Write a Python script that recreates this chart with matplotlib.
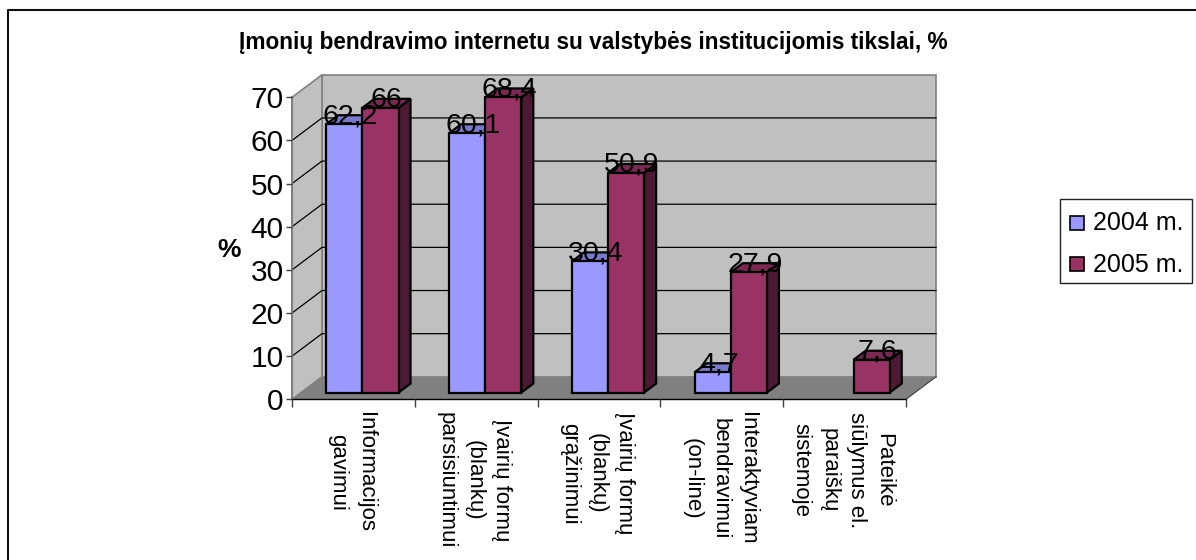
import matplotlib
matplotlib.use("Agg")
import matplotlib.pyplot as plt
from matplotlib.patches import Polygon, Rectangle
from matplotlib.lines import Line2D

plt.rcParams['font.family'] = ['Liberation Sans', 'DejaVu Sans']

title = "Įmonių bendravimo internetu su valstybės institucijomis tikslai, %"
categories = ["Informacijos\ngavimui",
              "Įvairių formų\n(blankų)\nparsisiuntimui",
              "Įvairių formų\n(blankų)\ngrąžinimui",
              "Interaktyviam\nbendravimui\n(on-line)",
              "Pateikė\nsiūlymus el.\nparaiškų\nsistemoje"]
series_names = ["2004 m.", "2005 m."]
values_2004 = [62.2, 60.1, 30.4, 4.7, None]
values_2005 = [66, 68.4, 50.9, 27.9, 7.6]
yticks = [0, 10, 20, 30, 40, 50, 60, 70]

W, H = 1196, 560
LEFT, RIGHT, TOP, BOTTOM = 292, 906, 97.3, 399.3
fig = plt.figure(figsize=(W/100, H/100), dpi=100, facecolor='white')
# outer chart frame: only the top and left edges are in view
fig.add_artist(Line2D([8/W, 8/W, 1], [0, 1-9.5/H, 1-9.5/H], transform=fig.transFigure,
                      color='#101010', lw=1.5))
ax = fig.add_axes([LEFT/W, 1-BOTTOM/H, (RIGHT-LEFT)/W, (BOTTOM-TOP)/H])
n = len(categories)
ax.set_xlim(0, n)
ax.set_ylim(0, yticks[-1])
ax.patch.set_visible(False)
for s in ('top', 'right'):
    ax.spines[s].set_visible(False)
for s in ('left', 'bottom'):
    ax.spines[s].set_zorder(1)
ax.spines['left'].set_color('#808080')
ax.spines['left'].set_linewidth(1.5)
ax.spines['bottom'].set_linewidth(1)

# depth vector of the full 3-D box, in data units
DX = 30 / ((RIGHT-LEFT)/n)
DY = 22.5 / ((BOTTOM-TOP)/yticks[-1])

def P(x, y, z):
    return (x + z*DX, y + z*DY)

def poly(pts, fc, ec='none', lw=0, zo=1):
    ax.add_patch(Polygon(pts, closed=True, fc=fc, ec=ec, lw=lw, zorder=zo,
                         clip_on=False, joinstyle='miter'))

ymax = yticks[-1]
# walls and floor
poly([P(0,0,1), P(n,0,1), P(n,ymax,1), P(0,ymax,1)], '#C0C0C0', '#808080', 1.2, 0.5)
poly([P(0,0,0), P(0,0,1), P(0,ymax,1), P(0,ymax,0)], '#C0C0C0', '#808080', 1.2, 0.5)
poly([P(0,0,0), P(n,0,0), P(n,0,1), P(0,0,1)], '#808080', 'none', 0, 0.6)
for t in yticks[1:-1]:
    a, b, c = P(0,t,0), P(0,t,1), P(n,t,1)
    ax.plot([a[0], b[0], c[0]], [a[1], b[1], c[1]], color='black', lw=0.9,
            clip_on=False, zorder=0.8, solid_joinstyle='miter')
e = P(n,0,0), P(n,0,1)
ax.plot([e[0][0], e[1][0]], [e[0][1], e[1][1]], color='#404040', lw=0.8, clip_on=False, zorder=0.8)

# bars
GAP = 1.4
BW = 1/(2+GAP)
Z0, Z1 = 0.3, 0.7
EC = 'black'
LW = 1.6
def bar(x0, v, front, topc, sidec, zo):
    x1 = x0 + BW
    poly([P(x1,0,Z0), P(x1,0,Z1), P(x1,v,Z1), P(x1,v,Z0)], sidec, EC, LW, zo)
    poly([P(x0,v,Z0), P(x1,v,Z0), P(x1,v,Z1), P(x0,v,Z1)], topc, EC, LW, zo)
    poly([P(x0,0,Z0), P(x1,0,Z0), P(x1,v,Z0), P(x0,v,Z0)], front, EC, LW, zo+0.01)

colors = [('#9999FF', '#7A7ACC', '#4D4D80'), ('#993366', '#7A2952', '#4D1A33')]
for i in range(n):
    x0 = i + GAP/2*BW
    for j, vals in enumerate((values_2004, values_2005)):
        v = vals[i]
        if v is None:
            continue
        bar(x0 + j*BW, v, *colors[j], 2 + i + j*0.1)
for i in range(n):
    x0 = i + GAP/2*BW
    for j, vals in enumerate((values_2004, values_2005)):
        v = vals[i]
        if v is None:
            continue
        lx, ly = P(x0 + j*BW + BW/2, v, 0.5)
        ax.annotate(str(v).replace('.', ','), xy=(lx, ly), xytext=(0, 2.5), textcoords='offset points',
                    ha='center', va='center', fontsize=20.5, color='black', zorder=10,
                    annotation_clip=False)

ax.set_yticks(yticks)
ax.tick_params(axis='y', labelsize=21.5, length=4, width=1, color='#404040', pad=2)
ax.set_xticks(range(n+1))
ax.set_xticklabels([])
ax.tick_params(axis='x', length=6, width=1, color='#404040')
for i, c in enumerate(categories):
    ax.annotate(c, xy=(i+0.5, 0), xycoords=('data', 'axes fraction'), xytext=(-1.5, -13*0.72),
                textcoords='offset points', rotation=-90, ha='center', va='top',
                multialignment='center', fontsize=16, linespacing=1.42, annotation_clip=False)
fig.text(593/W, 1-43/H, title, ha='center', va='center', fontsize=16.3, fontweight='bold')
fig.text(229/W, 1-250/H, '%', ha='center', va='center', fontsize=19, fontweight='bold')

# legend
fig.add_artist(Rectangle((1060/W, 1-283/H), 132/W, 84/H, transform=fig.transFigure,
                         fc='white', ec='#202020', lw=1))
for k, name in enumerate(series_names):
    yc = 222.5 + 42*k
    fig.add_artist(Rectangle((1070/W, 1-(yc+7)/H), 14/W, 14/H, transform=fig.transFigure,
                             fc=colors[k][0], ec='black', lw=1.2))
    fig.text(1093/W, 1-yc/H, name, ha='left', va='center', fontsize=18)

fig.savefig('out.png', dpi=100)
